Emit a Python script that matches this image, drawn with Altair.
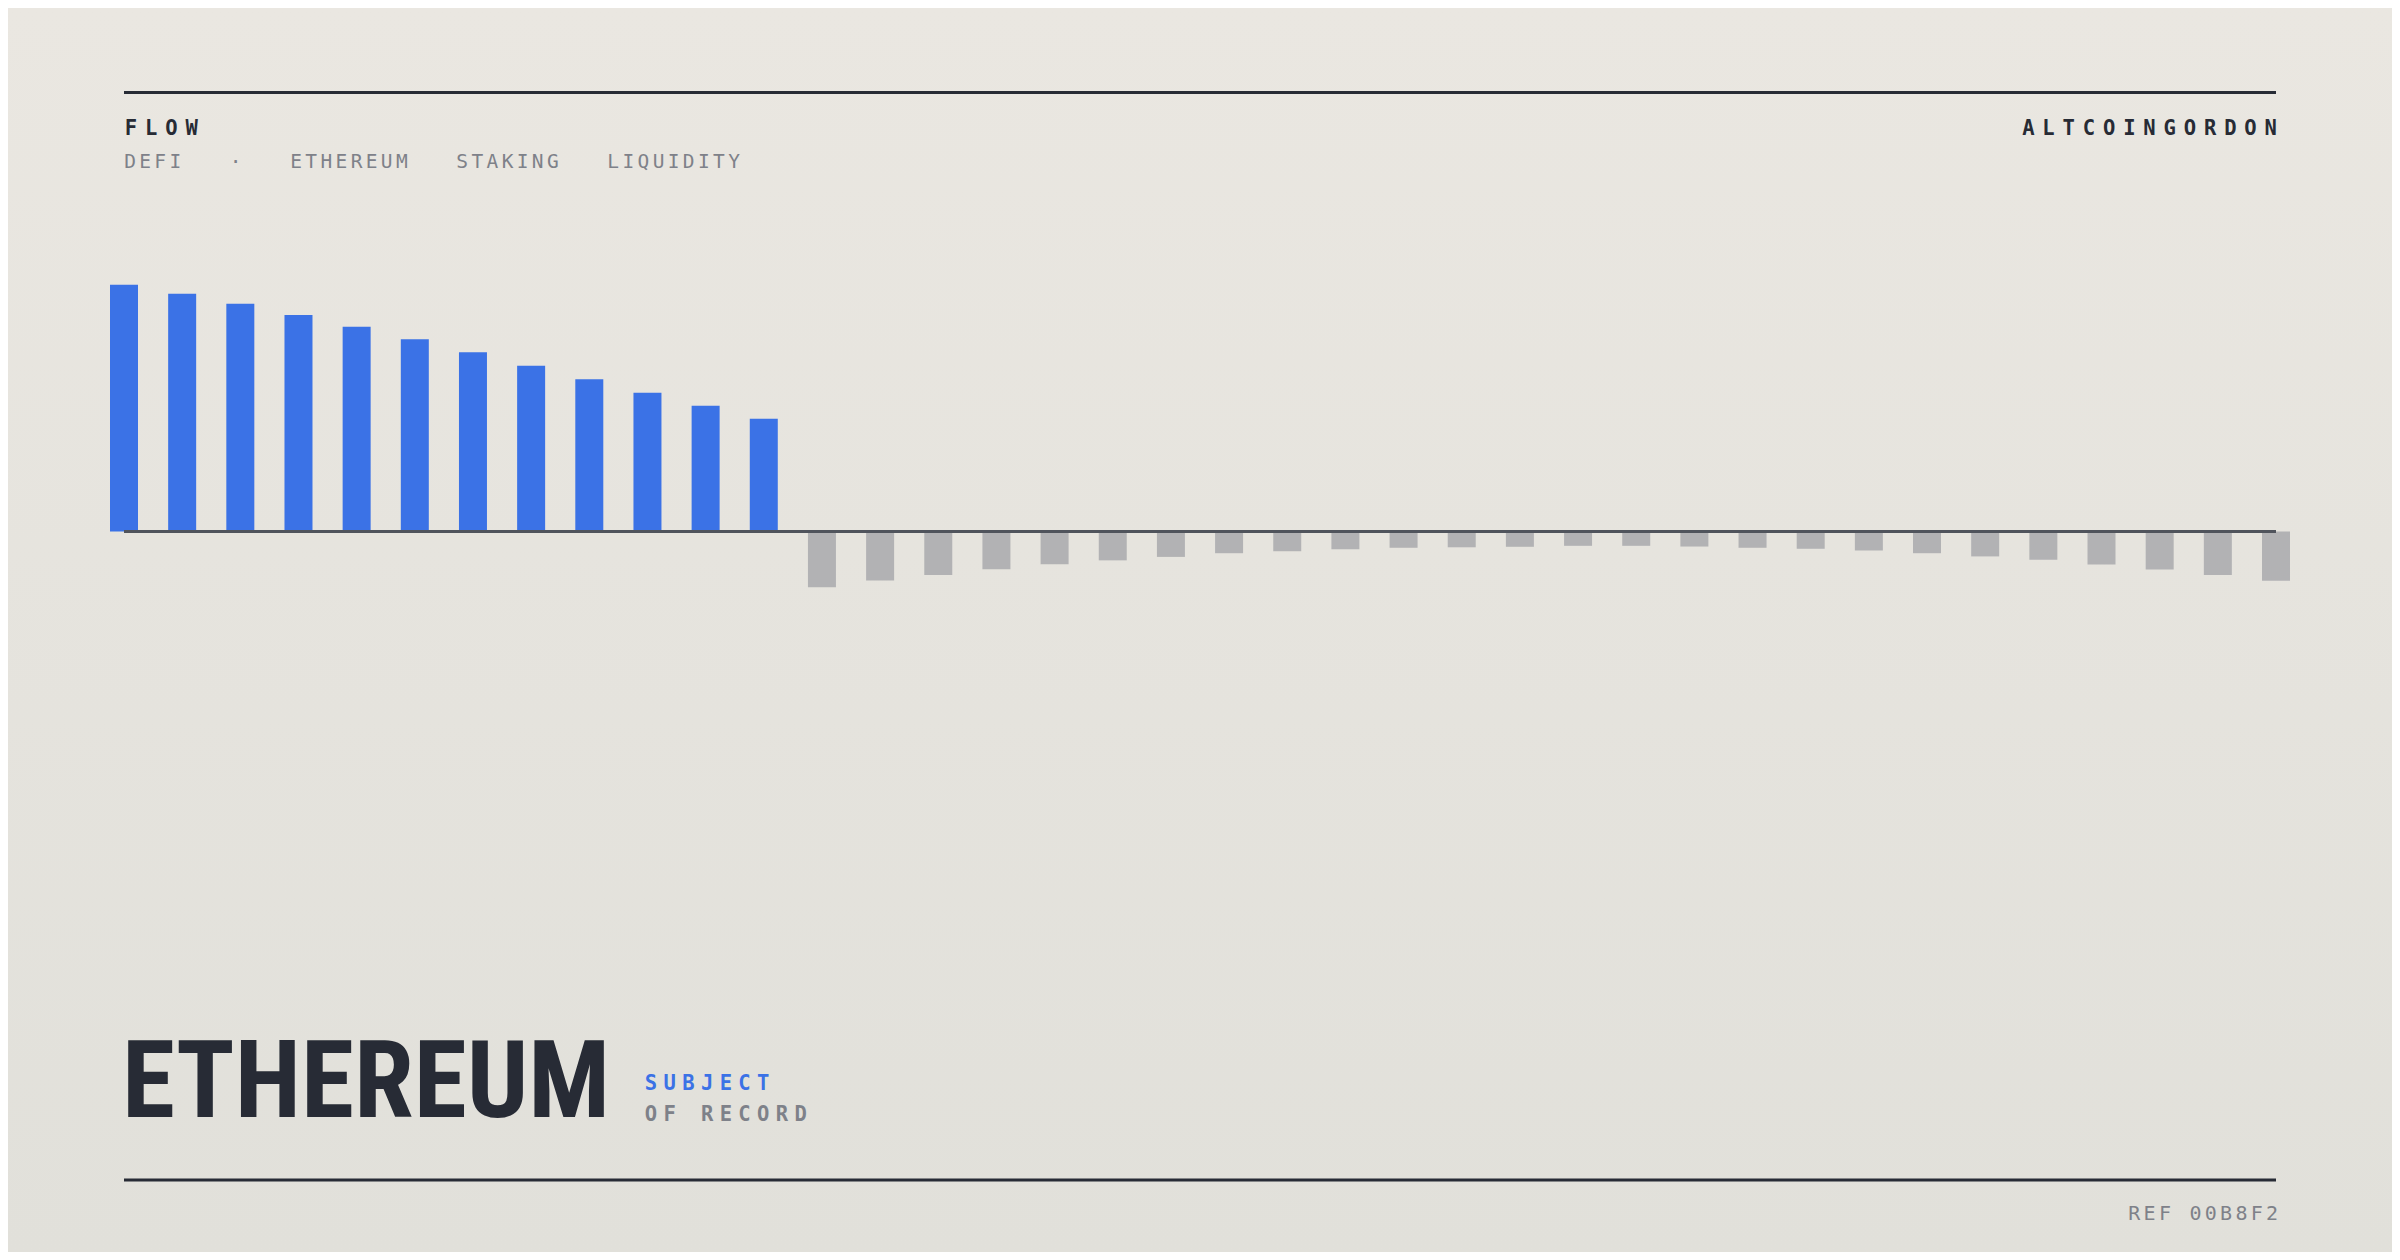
import altair as alt
import pandas as pd

# ---------------- data ----------------
inflows = [100, 96.4, 92.3, 87.8, 83.0, 77.9, 72.7, 67.2, 61.7, 56.2, 51.0, 45.7]
outflows = [-22.6, -19.9, -17.6, -15.3, -13.3, -11.7, -10.3, -8.8, -8.0, -7.2, -6.6,
            -6.4, -6.2, -5.8, -5.8, -6.1, -6.6, -7.0, -7.7, -8.8, -10.1, -11.5,
            -13.4, -15.4, -17.6, -20.0]
kicker = "FLOW"
tags = ["DEFI", "·", "ETHEREUM", "STAKING", "LIQUIDITY"]
brand = "ALTCOINGORDON"
title = "ETHEREUM"
subject_1 = "SUBJECT"
subject_2 = "OF RECORD"
ref_code = "REF 00B8F2"

# ---------------- style ----------------
W, H = 2384, 1244
DARK = "#272B35"
GREY_TXT = "#7E8189"
BLUE = "#3B72E6"
GREY_BAR = "#B2B2B4"
AXIS = "#50545C"
MONO = "DejaVu Sans Mono"
CONDENSED = "Liberation Sans Narrow, Roboto Condensed, DejaVu Sans Condensed, sans-serif"

one_row = pd.DataFrame({"a": [0]})


def tracked(text, x, y, pitch, size, color, weight="normal", anchor="left", font=MONO):
    """Letter-spaced text: one glyph per datum, placed on a fixed pitch."""
    chars = list(text)
    n = len(chars)
    start = x if anchor == "left" else x - (n - 1) * pitch
    df = pd.DataFrame({"ch": chars, "i": list(range(n))})
    df = df[df["ch"] != " "]
    return (
        alt.Chart(df)
        .transform_calculate(px=f"{start} + datum.i * {pitch}")
        .mark_text(font=font, fontSize=size, fontWeight=weight, color=color,
                   align="center", baseline="alphabetic")
        .encode(x=alt.X("px:Q", scale=None, axis=None), y=alt.value(y), text="ch:N")
    )


# background
bg = alt.Chart(one_row).mark_rect(
    fill=alt.Gradient(
        gradient="linear",
        stops=[alt.GradientStop(color="#EAE7E1", offset=0),
               alt.GradientStop(color="#E1E0DA", offset=1)],
        x1=0, x2=0, y1=0, y2=1,
    )
).encode(x=alt.value(0), x2=alt.value(W), y=alt.value(0), y2=alt.value(H))

# bars
n_bars = len(inflows) + len(outflows)
bars_df = pd.DataFrame({"idx": list(range(n_bars)), "flow": inflows + outflows})
xs = alt.Scale(domain=[0, n_bars - 1], range=[116, 2268], nice=False, zero=False)
ys = alt.Scale(domain=[-100, 100], range=[770.2, 276.8], nice=False)

bars = (
    alt.Chart(bars_df)
    .transform_calculate(x0="datum.idx - 0.2407", x1="datum.idx + 0.2407")
    .mark_bar()
    .encode(
        x=alt.X("x0:Q", scale=xs, axis=None),
        x2="x1:Q",
        y=alt.Y("flow:Q", scale=ys, axis=None),
        y2=alt.datum(0),
        color=alt.condition("datum.flow > 0", alt.value(BLUE), alt.value(GREY_BAR)),
    )
)
zero_df = pd.DataFrame({"s": [0], "e": [n_bars - 1], "z": [0]})
zero = alt.Chart(zero_df).mark_rule(color=AXIS, strokeWidth=3).encode(
    x=alt.X("s:Q", scale=xs, axis=None), x2="e:Q", y=alt.Y("z:Q", scale=ys, axis=None)
)
plot = alt.layer(bars, zero)

# frame rules
top_rule = alt.Chart(one_row).mark_rule(color=DARK, strokeWidth=3).encode(
    x=alt.value(116), x2=alt.value(2268), y=alt.value(84.5))
bottom_rule = alt.Chart(one_row).mark_rule(color=DARK, strokeWidth=3).encode(
    x=alt.value(116), x2=alt.value(2268), y=alt.value(1172))

# texts
t_kicker = tracked(kicker, 123, 127, 20.2, 20.5, DARK, "bold")
t_brand = tracked(brand, 2262.7, 127, 20.2, 20.5, DARK, "bold", anchor="right")
t_tags = tracked("   ".join(tags), 122, 159.7, 15.1, 19.5, GREY_TXT)
t_subj1 = tracked(subject_1, 643, 1082, 18.7, 20.5, BLUE, "bold")
t_subj2 = tracked(subject_2, 643, 1113, 18.7, 20.5, GREY_TXT, "bold")
t_ref = tracked(ref_code, 2264, 1212, 15.3, 20, GREY_TXT, anchor="right")

t_title = alt.Chart(pd.DataFrame({"t": [title]})).mark_text(
    font=CONDENSED, fontSize=108, fontWeight="bold", color=DARK,
    align="left", baseline="alphabetic"
).encode(x=alt.value(114), y=alt.value(1109), text="t:N")

chart = (
    alt.layer(bg, plot, top_rule, bottom_rule, t_kicker, t_brand, t_tags,
              t_title, t_subj1, t_subj2, t_ref)
    .resolve_scale(x="independent", y="independent")
    .properties(width=W, height=H, padding=0, background="#E6E4DE")
    .configure_view(stroke=None)
)

chart.save("out.html", embed_options={"renderer": "svg", "actions": False})
